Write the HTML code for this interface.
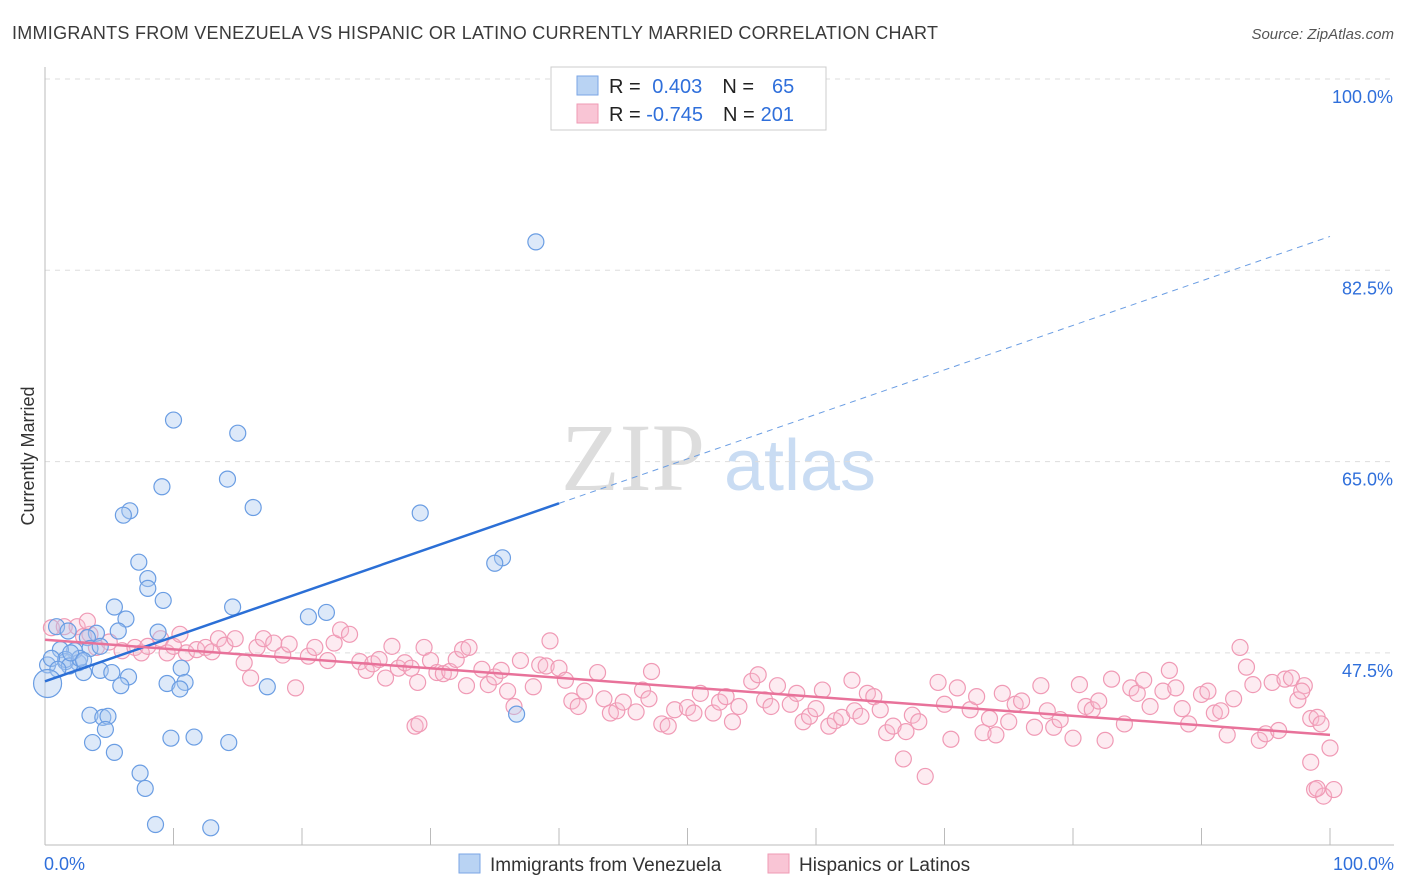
<!DOCTYPE html>
<html><head><meta charset="utf-8"><style>
body{margin:0;background:#fff;font-family:"Liberation Sans",sans-serif;}
svg{display:block}
</style></head><body>
<svg id="chart" width="1406" height="892" xmlns="http://www.w3.org/2000/svg">
<text x="12" y="39" font-size="18" fill="#3a3a3a" textLength="926">IMMIGRANTS FROM VENEZUELA VS HISPANIC OR LATINO CURRENTLY MARRIED CORRELATION CHART</text>
<text x="1394" y="39" font-size="15" fill="#555" font-style="italic" text-anchor="end">Source: ZipAtlas.com</text>
<text x="633" y="490" font-size="96" fill="#ddd" font-family="Liberation Serif,serif" text-anchor="middle">ZIP</text>
<text x="800" y="490" font-size="72" fill="#c9dcf3" text-anchor="middle">atlas</text>
<text x="34" y="456" font-size="18" fill="#333" text-anchor="middle" transform="rotate(-90 34 456)">Currently Married</text>
<g id="grid"></g><g id="marks"></g>
<rect x="551" y="67" width="275" height="63" fill="#fff" stroke="#ccc"/>
<rect x="577" y="76" width="21" height="19" fill="#b9d3f3" stroke="#7aa6e6"/>
<rect x="577" y="104" width="21" height="19" fill="#f9c5d5" stroke="#ef9ab4"/>
<text x="609" y="93" font-size="20" fill="#222">R = <tspan fill="#2f6fdb" dx="6">0.403</tspan><tspan dx="20" fill="#222">N =</tspan><tspan dx="18" fill="#2f6fdb">65</tspan></text>
<text x="609" y="121" font-size="20" fill="#222">R = <tspan fill="#2f6fdb">-0.745</tspan><tspan dx="20" fill="#222">N =</tspan><tspan dx="6" fill="#2f6fdb">201</tspan></text>
<rect x="459" y="854" width="21" height="19" fill="#b9d3f3" stroke="#7aa6e6"/>
<text x="490" y="871" font-size="19" fill="#333">Immigrants from Venezuela</text>
<rect x="768" y="854" width="21" height="19" fill="#f9c5d5" stroke="#ef9ab4"/>
<text x="799" y="871" font-size="19" fill="#333">Hispanics or Latinos</text>
<text x="44" y="870" font-size="18" fill="#2f6fdb">0.0%</text>
<text x="1394" y="870" font-size="18" fill="#2f6fdb" text-anchor="end">100.0%</text>
</svg>
<script>
const yTicks=[100,82.5,65,47.5];
const yTickLabels=["100.0%","82.5%","65.0%","47.5%"];
const blueX=[38.2,10.0,15.0,14.2,9.1,16.2,29.2,6.6,6.1,7.3,35.6,35.0,8.0,8.0,9.2,5.4,14.6,21.9,20.5,6.3,8.8,5.7,4.0,0.9,1.8,3.3,3.5,2.3,1.2,0.2,1.6,2.6,3.0,4.3,5.2,6.5,10.6,10.9,9.5,10.5,5.9,17.3,3.5,4.5,4.9,4.7,3.7,5.4,9.8,11.6,14.3,36.7,7.4,7.8,8.6,12.9,1.6,1.9,2.7,4.3,0.5,1.0,2.0,3.0,0.2];
const blueY=[85.1,68.8,67.6,63.4,62.7,60.8,60.3,60.5,60.1,55.8,56.2,55.7,54.3,53.4,52.3,51.7,51.7,51.2,50.8,50.6,49.4,49.5,49.3,49.9,49.5,48.9,47.9,47.7,47.8,46.4,46.7,46.6,45.7,45.9,45.7,45.3,46.1,44.8,44.7,44.2,44.5,44.4,41.8,41.6,41.7,40.5,39.3,38.4,39.7,39.8,39.3,41.9,36.5,35.1,31.8,31.5,46.9,46.3,47.0,48.1,47.0,46.0,47.5,46.8,44.7];
const pinkX=[0.5,1.5,2.5,3,3.5,4,5,3.3,6,7,7.5,8,9,9.5,10,10.5,11,11.8,12.5,13,13.5,14,14.8,15.5,16,16.5,17,17.8,18.5,19,19.5,20.5,21,22,22.5,23,23.7,24.5,25,25.5,26,26.5,27,27.5,28,28.5,29,29.5,30,28.8,29.1,30.5,31,31.5,32,32.5,33,32.8,34,34.5,35,35.5,36,36.5,37,38,38.5,39,39.3,40,40.5,41,41.5,42,43,43.5,44,44.5,45,46,46.5,47,47.2,48,48.5,49,50,50.5,51,52,52.5,53,53.5,54,55,55.5,56,56.5,57,58,58.5,59,59.5,60,60.5,61,61.5,62,62.8,63,63.5,64,64.5,65,65.5,66,66.8,67,67.5,68,68.5,69.5,70,70.5,71,72,72.5,73,73.5,74,74.5,75,75.5,76,77,77.5,78,78.5,79,80,80.5,81,81.5,82,82.5,83,84,84.5,85,85.5,86,87,87.5,88,88.5,89,90,90.5,91,91.5,92,92.5,93,93.5,94,94.5,95,95.5,96,96.5,97,97.5,98,98.5,99,97.8,99.3,100,98.5,98.8,99.5,100.3,99];
const pinkY=[49.8,49.9,49.9,49.0,49.2,48.0,48.5,50.4,47.7,48.0,47.5,48.1,48.8,47.5,48.1,49.2,47.5,47.8,48.0,47.6,48.8,48.2,48.8,46.6,45.2,48.0,48.8,48.4,47.3,48.3,44.3,47.2,48.0,46.8,48.4,49.6,49.2,46.7,45.9,46.5,46.9,45.2,48.1,46.1,46.6,46.1,44.8,48.0,46.8,40.8,41.0,45.7,45.6,45.8,46.9,47.8,48.0,44.5,46.0,44.6,45.3,45.9,44.0,42.6,46.8,44.4,46.4,46.3,48.6,46.1,45.0,43.1,42.6,44.0,45.7,43.3,42.0,42.2,43.0,42.1,44.1,43.3,45.8,41.0,40.8,42.3,42.5,42.0,43.8,42.0,43.0,43.5,41.2,42.6,44.9,45.5,43.2,42.6,44.5,42.8,43.8,41.2,41.7,42.4,44.1,40.8,41.3,41.6,45.0,42.2,41.7,43.8,43.5,42.3,40.2,40.8,37.8,40.3,41.8,41.2,36.2,44.8,42.8,39.6,44.3,42.3,43.5,40.2,41.5,40.0,43.8,41.2,42.8,43.1,40.7,44.5,42.2,40.7,41.4,39.7,44.6,42.6,42.3,43.1,39.5,45.1,41.0,44.3,43.8,45.0,42.6,44.0,45.9,44.3,42.4,41.0,43.7,44.0,42.0,42.2,40.0,43.3,48.0,46.2,44.6,39.5,40.1,44.8,40.4,45.1,45.2,43.2,44.5,41.5,41.6,44.0,41.0,38.8,37.5,35.0,34.4,35.0,35.1];
const blueFit=[44.9,85.6];
const pinkFit=[48.7,40.0];
const NS="http://www.w3.org/2000/svg";
const X0=45,X1=1330;
function xs(v){return X0+(X1-X0)*v/100;}
function ys(v){return 79+(100-v)/17.5*191.3;}
function mk(tag,attrs,parent){const e=document.createElementNS(NS,tag);for(const k in attrs)e.setAttribute(k,attrs[k]);parent.appendChild(e);return e;}
const grid=document.getElementById('grid'),marks=document.getElementById('marks');
yTicks.forEach((t,i)=>{
  const l=mk('line',{x1:45,x2:1394,y1:ys(t),y2:ys(t),stroke:'#ddd','stroke-dasharray':'5,5'},grid);
  
  
  const tx=mk('text',{x:1393,y:ys(t)+24,'font-size':18,fill:'#2f6fdb','text-anchor':'end'},grid);
  tx.textContent=yTickLabels[i];
  
  
});
const ax=mk('line',{x1:45,x2:1394,y1:845,y2:845,stroke:'#bbb'},grid);


const yax=mk('line',{x1:45,x2:45,y1:67,y2:845,stroke:'#bbb'},grid);


for(let i=0;i<=10;i++){const t=mk('line',{x1:xs(i*10),x2:xs(i*10),y1:828,y2:845,stroke:'#bbb'},grid);
  
  }
pinkX.forEach((x,i)=>{const c=mk('circle',{cx:xs(x),cy:ys(pinkY[i]),r:8,fill:'rgba(249,190,208,0.3)',stroke:'#f09ab5','stroke-width':1.2},marks);
  
  });
blueX.forEach((x,i)=>{const c=mk('circle',{cx:xs(x),cy:ys(blueY[i]),r:(i===blueX.length-1?14:8),fill:'rgba(170,200,240,0.4)',stroke:'#6a9de3','stroke-width':1.2},marks);
  
  });
const bAt=v=>blueFit[0]+(blueFit[1]-blueFit[0])*v/100;
const bl=mk('line',{x1:xs(0),y1:ys(bAt(0)),x2:xs(40),y2:ys(bAt(40)),stroke:'#2b6fd6','stroke-width':2.5},marks);


const bd=mk('line',{x1:xs(40),y1:ys(bAt(40)),x2:xs(100),y2:ys(bAt(100)),stroke:'#6a9de3','stroke-width':1,'stroke-dasharray':'6,5'},marks);


const pl=mk('line',{x1:xs(0),y1:ys(pinkFit[0]),x2:xs(100),y2:ys(pinkFit[1]),stroke:'#e8729a','stroke-width':2.5},marks);


</script>
</body></html>
